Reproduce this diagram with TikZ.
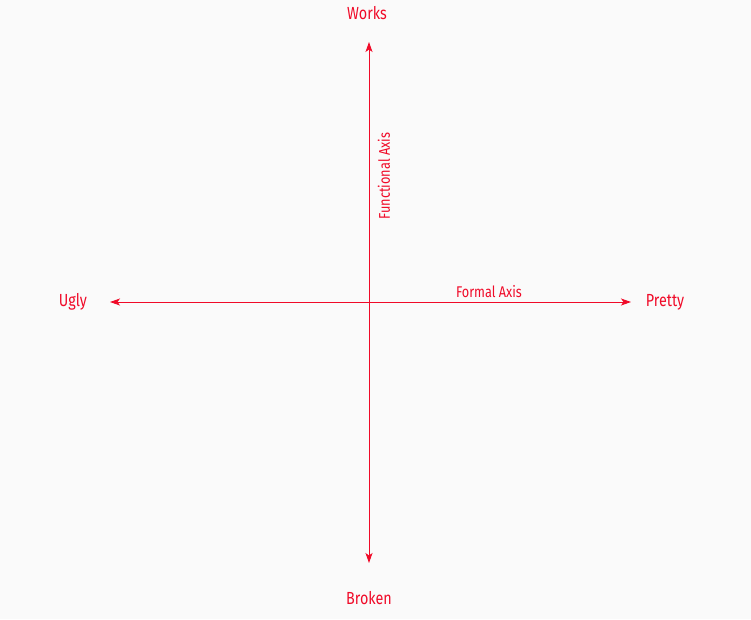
\documentclass[tikz,border=0pt]{standalone}
\usepackage{fontspec}
\setmainfont{Fira Sans}[FakeStretch=0.82]
\usetikzlibrary{arrows.meta,positioning}
\definecolor{paper}{HTML}{FAFAFA}
\definecolor{axisred}{HTML}{F00A28}

\begin{document}
\begin{tikzpicture}[
  x=1pt, y=1pt,
  pole/.style={font=\fontsize{17.5}{20}\selectfont, text=axisred, inner sep=0pt},
  tag/.style={font=\fontsize{15.5}{18}\selectfont, text=axisred, inner sep=0pt},
  axisline/.style={draw=axisred, line width=0.9pt, {Stealth[length=10pt,width=7pt,inset=2.5pt]}-{Stealth[length=10pt,width=7pt,inset=2.5pt]}}
]
\fill[paper] (-369,-317) rectangle (382,302);
\useasboundingbox (-369,-317) rectangle (382,302);
% axis ends
\coordinate (top) at (0,260);
\coordinate (bottom) at (0,-261);
\coordinate (left) at (-259,0);
\coordinate (right) at (262,0);
% pole labels
\node[pole] (works) at (-2,289) {Works};
\node[pole] (broken) at (0,-296) {Broken};
\node[pole] (ugly) at (-296,0) {Ugly};
\node[pole] (pretty) at (296,0) {Pretty};
% axes
\draw[axisline] (bottom) -- (top);
\draw[axisline] (left) -- (right);
\node[tag] (formal) at (120,10) {Formal Axis};
\node[tag, rotate=90] (functional) at (15,126) {Functional Axis};
\end{tikzpicture}
\end{document}
